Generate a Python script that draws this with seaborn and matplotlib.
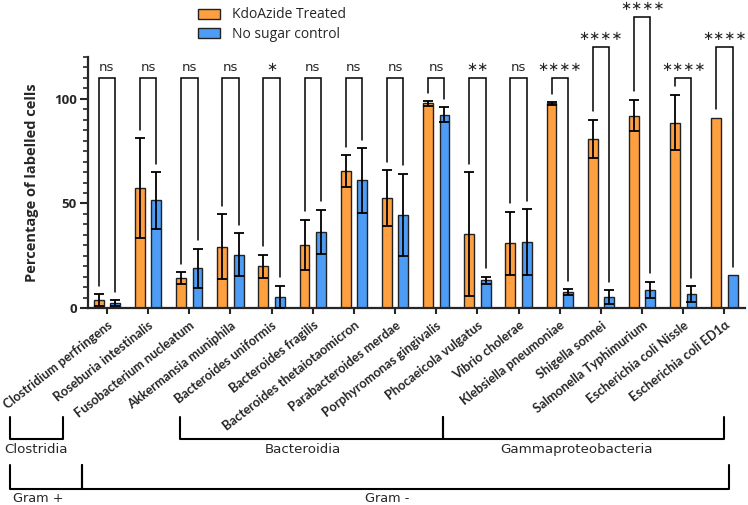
import numpy as np
import pandas as pd
import matplotlib.pyplot as plt
import seaborn as sns
from matplotlib.transforms import blended_transform_factory

# values
species = [
    "Clostridium perfringens", "Roseburia intestinalis", "Fusobacterium nucleatum",
    "Akkermansia muniphila", "Bacteroides uniformis", "Bacteroides fragilis",
    "Bacteroides thetaiotaomicron", "Parabacteroides merdae", "Porphyromonas gingivalis",
    "Phocaeicola vulgatus", "Vibrio cholerae", "Klebsiella pneumoniae",
    "Shigella sonnei", "Salmonella Typhimurium", "Escherichia coli Nissle",
    "Escherichia coli ED1α",
]
treated = [3.8, 57.3, 14.2, 29.4, 20.0, 30.2, 65.6, 52.5, 97.8, 35.4, 31.0, 97.8, 81.0, 92.0, 88.6, 91.0]
treated_err = [2.8, 24.0, 2.8, 15.5, 5.5, 12.0, 7.6, 13.3, 1.0, 29.6, 15.0, 0.6, 9.1, 7.6, 13.3, np.nan]
control = [2.4, 51.4, 19.0, 25.4, 5.4, 36.3, 61.0, 44.6, 92.5, 13.3, 31.5, 7.7, 5.3, 8.6, 6.7, 15.7]
control_err = [1.4, 13.5, 9.3, 10.3, 5.3, 10.7, 15.4, 19.6, 3.6, 1.6, 15.6, 1.4, 3.2, 4.0, 3.7, np.nan]
signif = ["ns", "ns", "ns", "ns", "*", "ns", "ns", "ns", "ns", "**", "ns",
          "****", "****", "****", "****", "****"]
bracket_top = [110, 110, 110, 110, 110, 110, 110, 110, 110, 110, 110, 110, 125, 139, 110, 125]
conditions = ["KdoAzide Treated", "No sugar control"]

df = pd.DataFrame({
    "species": species * 2,
    "condition": [conditions[0]] * len(species) + [conditions[1]] * len(species),
    "value": treated + control,
})

sns.set_style("ticks")
plt.rcParams["font.family"] = ["Open Sans", "DejaVu Sans"]

fig = plt.figure(figsize=(7.48, 5.05), dpi=100)
ax = fig.add_axes([88 / 748, 1 - 308 / 505, 657 / 748, 251 / 505])

sns.barplot(data=df, x="species", y="value", hue="condition",
            palette=["#FFA040", "#4D9DF6"], saturation=1, errorbar=None,
            width=0.8, gap=0.4, edgecolor="#222222", linewidth=1, ax=ax)

# error bars on top of the bars seaborn drew
for cont, err in zip(ax.containers, [treated_err, control_err]):
    xs = np.array([p.get_x() + p.get_width() / 2 for p in cont])
    hs = np.array([p.get_height() for p in cont])
    err = np.array(err)
    ok = np.isfinite(err)
    ax.errorbar(xs[ok], hs[ok], yerr=err[ok], fmt="none", ecolor="black",
                elinewidth=1.3, capsize=3.5, capthick=1.3, zorder=5)

# significance brackets
left_bars, right_bars = ax.containers[0], ax.containers[1]
for i, lab in enumerate(signif):
    xl = left_bars[i].get_x() + left_bars[i].get_width() / 2
    xr = right_bars[i].get_x() + right_bars[i].get_width() / 2
    yl = treated[i] + np.nan_to_num(treated_err[i]) + 4
    yr = control[i] + np.nan_to_num(control_err[i]) + 4
    top = bracket_top[i]
    ax.plot([xl, xl, xr, xr], [yl, top, top, yr], color="black", lw=1.1,
            clip_on=False, solid_joinstyle="miter")
    txt = lab.replace("*", "\u2217")
    ax.text((xl + xr) / 2, top + 1.8, txt, ha="center", va="bottom",
            fontsize=9.5, family="DejaVu Sans", clip_on=False)

ax.set_ylim(0, 120)
ax.set_xlim(-0.46, 15.5)
ax.set_yticks([0, 50, 100])
ax.set_yticks(np.arange(0, 121, 5), minor=True)
ax.set_xlabel("")
ax.set_ylabel("Percentage of labelled cells", fontsize=10.5, fontweight="bold", labelpad=11)
for s in ["top", "right"]:
    ax.spines[s].set_visible(False)
for s in ["left", "bottom"]:
    ax.spines[s].set_linewidth(1.6)
ax.tick_params(axis="y", which="major", length=6, width=1.5, labelsize=9.5, pad=2)
ax.tick_params(axis="y", which="minor", length=3.5, width=1.2)
ax.tick_params(axis="x", which="major", length=4, width=1.5, pad=4)
for t in ax.get_yticklabels():
    t.set_fontweight("bold")
ax.set_xticks(range(len(species)))
ax.set_xticklabels(species, rotation=38, ha="right", va="top",
                   rotation_mode="anchor", fontsize=9.2, fontweight="bold",
                   family=["Lato", "DejaVu Sans"])

# legend at top
handles, labels = ax.get_legend_handles_labels()
ax.get_legend().remove()
fig.legend(handles, labels, loc="upper left", bbox_to_anchor=(185 / 748, 1.01),
           frameon=False, fontsize=10, handlelength=1.6, handleheight=0.75,
           labelspacing=0.3, handletextpad=0.9)

# taxonomy brackets below the axis
tr = blended_transform_factory(ax.transData, fig.transFigure)
class_groups = [("Clostridia", -2.35, -1.07, -1.72), ("Bacteroidia", 1.77, 8.16, 4.76),
                ("Gammaproteobacteria", 8.16, 15.0, 11.4)]
for name, x0, x1, xt in class_groups:
    ax.plot([x0, x0, x1, x1], [0.174, 0.131, 0.131, 0.174], color="black", lw=1.5,
            transform=tr, clip_on=False)
    ax.text(xt, 0.122, name, ha="center", va="top", fontsize=9.6,
            family="DejaVu Sans", transform=tr)
gram_groups = [("Gram +", -2.35, -0.61, -1.67), ("Gram -", -0.61, 15.12, 6.8)]
for name, x0, x1, xt in gram_groups:
    ax.plot([x0, x0, x1, x1], [0.080, 0.032, 0.032, 0.080], color="black", lw=1.5,
            transform=tr, clip_on=False)
    ax.text(xt, 0.026, name, ha="center", va="top", fontsize=9.3,
            family="DejaVu Sans", transform=tr)

fig.savefig("out.png", dpi=100)
